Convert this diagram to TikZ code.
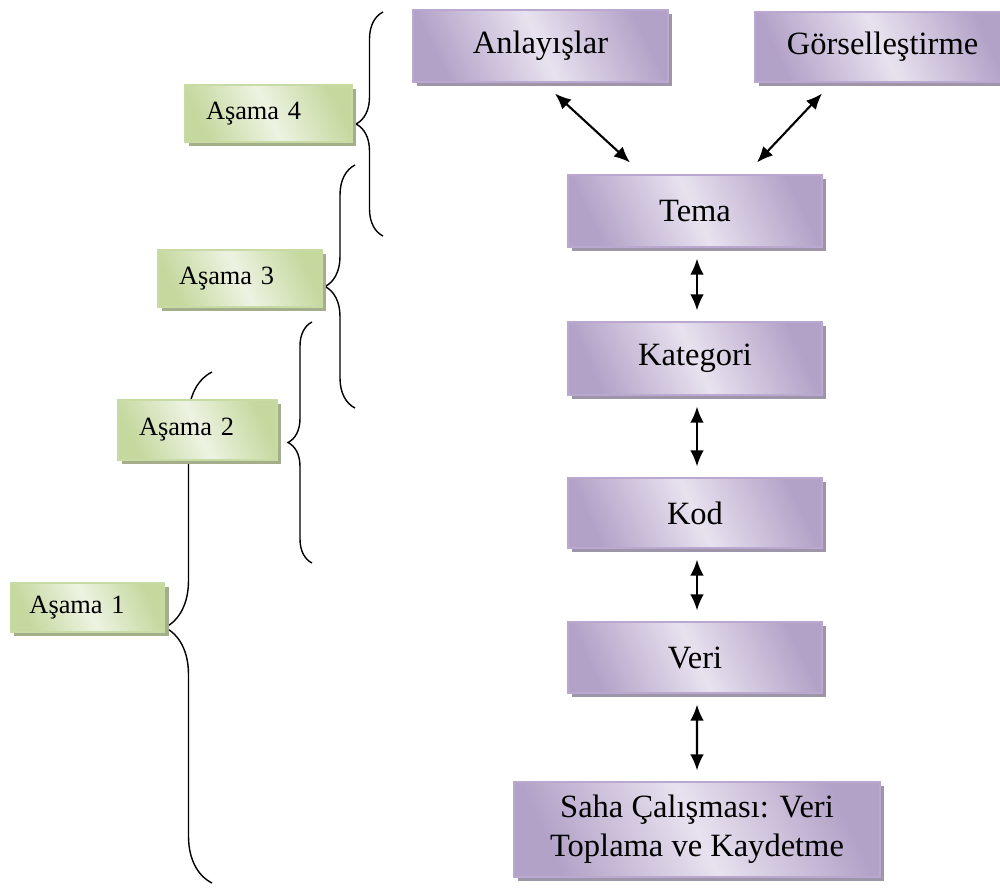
\documentclass[tikz,border=0pt]{standalone}
\usepackage{fontspec}
\setmainfont{Liberation Serif}
\usetikzlibrary{arrows.meta,shadows,decorations.pathreplacing}
\definecolor{pEdge}{HTML}{B3A2C8}
\definecolor{pMid}{HTML}{E8E2EF}
\definecolor{pLine}{HTML}{BBA8D0}
\definecolor{pShadow}{HTML}{9E95A8}
\definecolor{gEdge}{HTML}{C5D89E}
\definecolor{gMid}{HTML}{EDF3E2}
\definecolor{gLine}{HTML}{C9DBA5}
\definecolor{gShadow}{HTML}{A5AE8B}
\tikzset{
  pbox/.style={draw=pLine, line width=0.6pt, left color=pEdge, right color=pEdge, middle color=pMid, shading angle=115,
    drop shadow={shadow xshift=0.08cm, shadow yshift=-0.08cm, fill=pShadow, opacity=1},
    inner sep=0pt, align=center, font=\fontsize{18.5}{22}\selectfont},
  gbox/.style={draw=gLine, line width=0.6pt, left color=gEdge, right color=gEdge, middle color=gMid, shading angle=115,
    drop shadow={shadow xshift=0.08cm, shadow yshift=-0.08cm, fill=gShadow, opacity=1},
    inner xsep=0.42cm, inner ysep=0pt, align=left, font=\fontsize{15}{18}\selectfont},
  dbl/.style={{Latex[length=0.32cm,width=0.27cm]}-{Latex[length=0.32cm,width=0.27cm]}, line width=1.2pt, black},
  vshort/.style={shorten >=0.22cm, shorten <=0.22cm},
  curly/.style={decorate, decoration={brace, amplitude=#1}, line width=0.8pt, black},
}
\begin{document}
\begin{tikzpicture}
\useasboundingbox (0,0) rectangle (20,-17.74);
% braces
\draw[curly=0.54cm] (7.66,-4.72) coordinate (b4s) -- (7.66,-0.24) coordinate (b4e);
\draw[curly=0.60cm] (7.10,-8.16) coordinate (b3s) -- (7.10,-3.30) coordinate (b3e);
\draw[curly=0.48cm] (6.24,-11.26) coordinate (b2s) -- (6.24,-6.44) coordinate (b2e);
\draw[curly=0.94cm] (4.24,-17.66) coordinate (b1s) -- (4.24,-7.44) coordinate (b1e);
% purple boxes
\node[pbox, minimum width=5.10cm, minimum height=1.44cm] (anl) at (10.81,-0.92) {Anlayışlar};
\node[pbox, minimum width=5.10cm, minimum height=1.40cm] (gors) at (17.65,-0.94) {Görselleştirme};
\node[pbox, minimum width=5.08cm, minimum height=1.44cm] (tema) at (13.90,-4.22) {Tema};
\node[pbox, minimum width=5.08cm, minimum height=1.46cm] (kat) at (13.90,-7.17) {Kategori};
\node[pbox, minimum width=5.08cm, minimum height=1.40cm] (kod) at (13.90,-10.26) {Kod};
\node[pbox, minimum width=5.08cm, minimum height=1.42cm] (veri) at (13.90,-13.15) {Veri};
\node[pbox, minimum width=7.32cm, minimum height=1.90cm] (saha) at (13.94,-16.59) {Saha Çalışması: Veri\\Toplama ve Kaydetme};
% green boxes
\node[gbox, text width=2.50cm, minimum height=1.14cm] (a4) at (5.37,-2.27) {Aşama 4};
\node[gbox, text width=2.44cm, minimum height=1.14cm] (a3) at (4.80,-5.57) {Aşama 3};
\node[gbox, text width=2.34cm, minimum height=1.20cm] (a2) at (3.95,-8.60) {Aşama 2};
\node[gbox, text width=2.32cm, inner xsep=0.38cm, minimum height=0.98cm] (a1) at (1.75,-12.15) {Aşama 1};
% arrows
\draw[dbl] ([shift={(0.29,-0.22)}]anl.south) -- ([shift={(-1.30,0.24)}]tema.north);
\draw[dbl] ([shift={(-1.21,-0.22)}]gors.south) -- ([shift={(1.24,0.24)}]tema.north);
\draw[dbl, vshort] ([xshift=0.04cm]tema.south) -- ([xshift=0.04cm]kat.north);
\draw[dbl, vshort] ([xshift=0.04cm]kat.south) -- ([xshift=0.04cm]kod.north);
\draw[dbl, vshort] ([xshift=0.04cm]kod.south) -- ([xshift=0.04cm]veri.north);
\draw[dbl, vshort] ([xshift=0.04cm]veri.south) -- ([xshift=0.0cm]saha.north);
\end{tikzpicture}
\end{document}
